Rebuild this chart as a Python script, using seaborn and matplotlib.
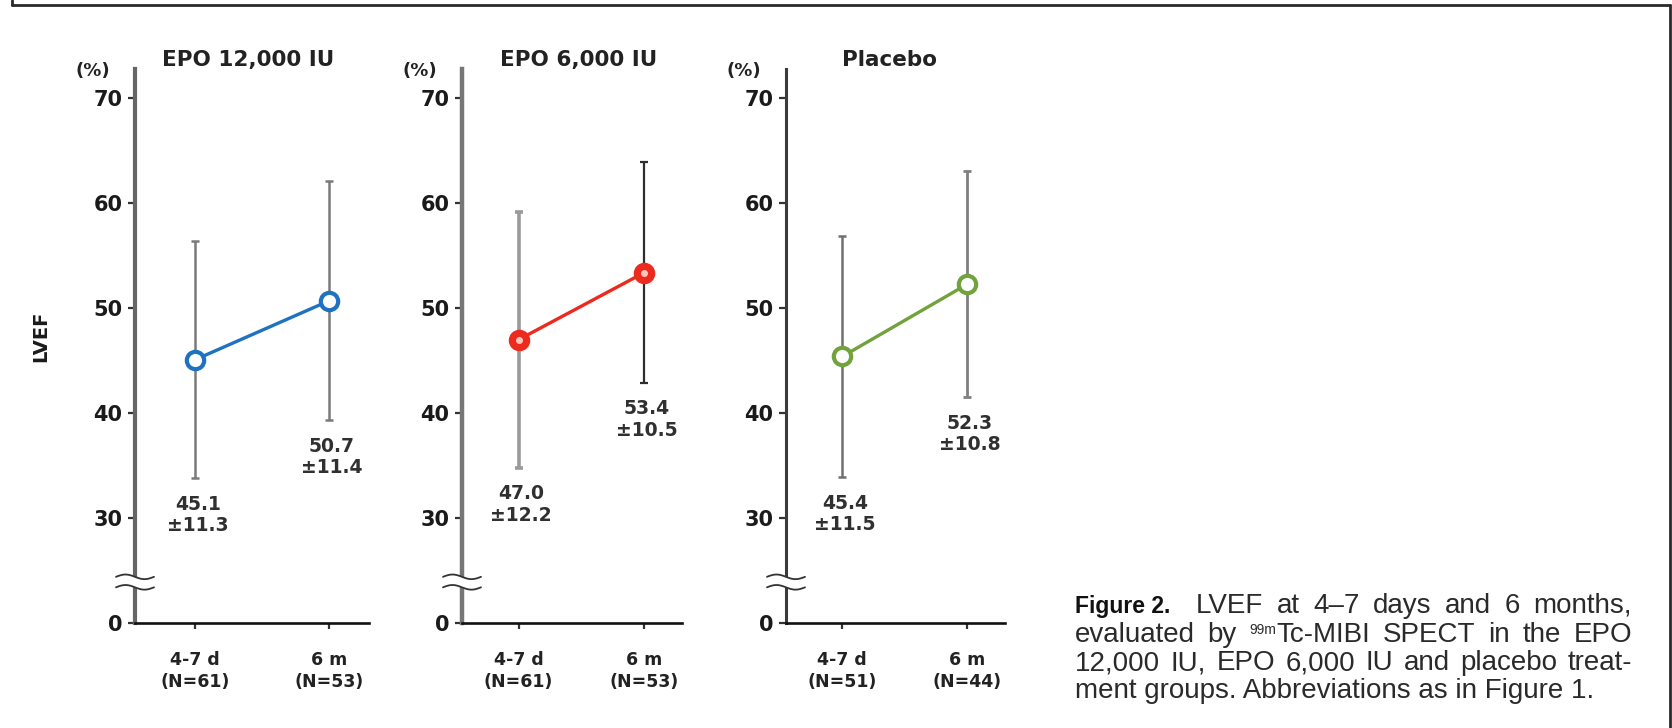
import matplotlib
matplotlib.use("Agg")
import numpy as np
import pandas as pd
import matplotlib.pyplot as plt
import seaborn as sns
from matplotlib.lines import Line2D

# values
groups = ["EPO 12,000 IU", "EPO 6,000 IU", "Placebo"]
times = ["4-7 d", "6 m"]
means_12000 = [45.1, 50.7]
sds_12000 = [11.3, 11.4]
n_12000 = [61, 53]
means_6000 = [47.0, 53.4]
sds_6000 = [12.2, 10.5]
n_6000 = [61, 53]
means_placebo = [45.4, 52.3]
sds_placebo = [11.5, 10.8]
n_placebo = [51, 44]
y_ticks = [20, 30, 40, 50, 60, 70]
y_tick_labels = ["0", "30", "40", "50", "60", "70"]
caption_lines = [
    "LVEF at 4\u20137 days and 6 months,",
    "evaluated by ^99m|Tc-MIBI SPECT in the EPO",
    "12,000 IU, EPO 6,000 IU and placebo treat-",
    "ment groups. Abbreviations as in Figure 1.",
]

rows = []
for g, ms, ss, ns in zip(groups, [means_12000, means_6000, means_placebo],
                         [sds_12000, sds_6000, sds_placebo],
                         [n_12000, n_6000, n_placebo]):
    for i, t in enumerate(times):
        rows.append({"group": g, "time": t, "pos": i, "mean": ms[i], "sd": ss[i], "n": ns[i]})
df = pd.DataFrame(rows)

sns.set_theme(style="white")
plt.rcParams["font.family"] = ["DejaVu Sans"]

W, H = 1672, 728
fig = plt.figure(figsize=(W / 100, H / 100), dpi=100)
fig.patch.set_facecolor("white")

# per panel look: left px, width px, title x px, line colour, face, spine colour/width, errbar colours/widths
panels = [
    dict(left=135, width=234, tx=248, c="#1f72c2", face="white", sc="#666666", sw=3.0,
         ec=["#7a7a7a", "#7a7a7a"], ew=[1.8, 1.8]),
    dict(left=462, width=220, tx=579, c="#ec2a1e", face="#ec2a1e", sc="#767676", sw=3.2,
         ec=["#9a9a9a", "#2e2e2e"], ew=[2.6, 1.6]),
    dict(left=786, width=219, tx=889, c="#72a23c", face="white", sc="#3a3a3a", sw=2.2,
         ec=["#707070", "#808080"], ew=[1.8, 2.0]),
]
xlim = (-0.45, 1.3)
ylim = (20, 72.8)
ax_bottom, ax_height = 105, 554

for g, p in zip(groups, panels):
    sub = df[df["group"] == g]
    ax = fig.add_axes([p["left"] / W, ax_bottom / H, p["width"] / W, ax_height / H])
    ax.set_facecolor("none")

    for k, (_, r) in enumerate(sub.iterrows()):
        ax.errorbar(r["pos"], r["mean"], yerr=r["sd"], fmt="none", ecolor=p["ec"][k],
                    elinewidth=p["ew"][k], capsize=3, capthick=p["ew"][k], zorder=2)

    sns.lineplot(data=sub, x="pos", y="mean", ax=ax, color=p["c"], lw=2.4, marker="o",
                 markersize=12.5, markeredgewidth=3.0, markeredgecolor=p["c"],
                 markerfacecolor=p["face"], errorbar=None, legend=False, zorder=3)
    if p["face"] != "white":
        ax.plot(sub["pos"], sub["mean"], "o", color="#ffc8bf", markersize=4, zorder=4)

    for _, r in sub.iterrows():
        ax.text(r["pos"] + 0.02, r["mean"] - r["sd"] - 3.5, f"{r['mean']:.1f}\n\u00b1{r['sd']:.1f}",
                ha="center", va="center", fontsize=13.5, fontweight="bold", color="#303030",
                linespacing=1.15, multialignment="center")

    ax.set_xlim(*xlim)
    ax.set_ylim(*ylim)
    ax.set_xticks(sub["pos"].tolist())
    ax.set_xticklabels([f"{t}\n(N={n})" for t, n in zip(sub["time"], sub["n"])],
                       fontsize=12.5, fontweight="bold", color="#222222", linespacing=1.3)
    ax.set_yticks(y_ticks)
    ax.set_yticklabels(y_tick_labels, fontsize=15, fontweight="bold", color="#1a1a1a")
    ax.tick_params(axis="y", direction="out", length=5, width=1.6, pad=4, color="#333333", left=True)
    ax.tick_params(axis="x", direction="out", length=4, width=1.6, pad=16, color="#333333", bottom=True)
    ax.set_xlabel("")
    ax.set_ylabel("")
    for s in ["top", "right"]:
        ax.spines[s].set_visible(False)
    ax.spines["left"].set_color(p["sc"])
    ax.spines["left"].set_linewidth(p["sw"])
    ax.spines["bottom"].set_color("#111111")
    ax.spines["bottom"].set_linewidth(1.9)

    # axis break marks
    t = np.linspace(-19, 19, 60)
    xs = xlim[0] + t * (xlim[1] - xlim[0]) / p["width"]
    amp = 0.22
    y_up = 24.4 - amp * np.sin(np.pi * t / 19)
    y_lo = 23.4 - amp * np.sin(np.pi * t / 19)
    ax.fill_between(xs, y_lo, y_up, color="white", zorder=5, clip_on=False, lw=0)
    ax.plot(xs, y_up, color="#333333", lw=1.3, zorder=6, clip_on=False)
    ax.plot(xs, y_lo, color="#333333", lw=1.3, zorder=6, clip_on=False)

    fig.text(p["tx"] / W, 1 - 60 / H, g, ha="center", va="center", fontsize=15.5,
             fontweight="bold", color="#222222")
    fig.text((p["left"] - 42) / W, 1 - 71 / H, "(%)", ha="center", va="center",
             fontsize=13, fontweight="bold", color="#222222")

fig.text(41 / W, 1 - 336 / H, "LVEF", rotation=90, ha="center", va="center",
         fontsize=14, fontweight="bold", color="#1a1a1a")

# frame around the figure (no bottom edge)
for xx, yy in [([12, 12], [0, 5]), ([12, 1670], [5, 5]), ([1670, 1670], [5, 728])]:
    fig.add_artist(Line2D([x / W for x in xx], [1 - y / H for y in yy], color="#2a2a2a",
                          lw=2.0, transform=fig.transFigure))

# caption, justified
renderer = fig.canvas.get_renderer()
cap_size = 20
cap_kw = dict(fontsize=cap_size, color="#2a2a2a", family=["Liberation Sans"], va="baseline")
cap_left, cap_right = 1075, 1632
baselines = [613, 642, 670, 698]

fig.text(cap_left / W, 1 - baselines[0] / H, "Figure 2.", fontsize=16.5, fontweight="bold",
         color="#111111", family=["Liberation Sans Narrow", "Liberation Sans"], va="baseline")


def make_word(word, y):
    # "^sup|rest" marks a small raised prefix
    if word.startswith("^"):
        sup, rest = word[1:].split("|")
        a1 = fig.text(0, 1 - (y - 8) / H, sup, fontsize=cap_size * 0.5, color="#2a2a2a",
                      family=["Liberation Sans"], va="baseline")
        a2 = fig.text(0, 1 - y / H, rest, **cap_kw)
        return [a1, a2]
    return [fig.text(0, 1 - y / H, word, **cap_kw)]


def place_justified(line, x0, x1, y):
    words = [make_word(w, y) for w in line.split(" ")]
    widths = [sum(a.get_window_extent(renderer).width for a in parts) for parts in words]
    gap = (x1 - x0 - sum(widths)) / max(len(words) - 1, 1)
    x = x0
    for parts, w in zip(words, widths):
        xi = x
        for a in parts:
            a.set_x(xi / W)
            xi += a.get_window_extent(renderer).width
        x += w + gap


place_justified(caption_lines[0], 1196, cap_right, baselines[0])
place_justified(caption_lines[1], cap_left, cap_right, baselines[1])
place_justified(caption_lines[2], cap_left, cap_right, baselines[2])
fig.text(cap_left / W, 1 - baselines[3] / H, caption_lines[3], **cap_kw)

fig.savefig("out.png", dpi=100, facecolor="white")
